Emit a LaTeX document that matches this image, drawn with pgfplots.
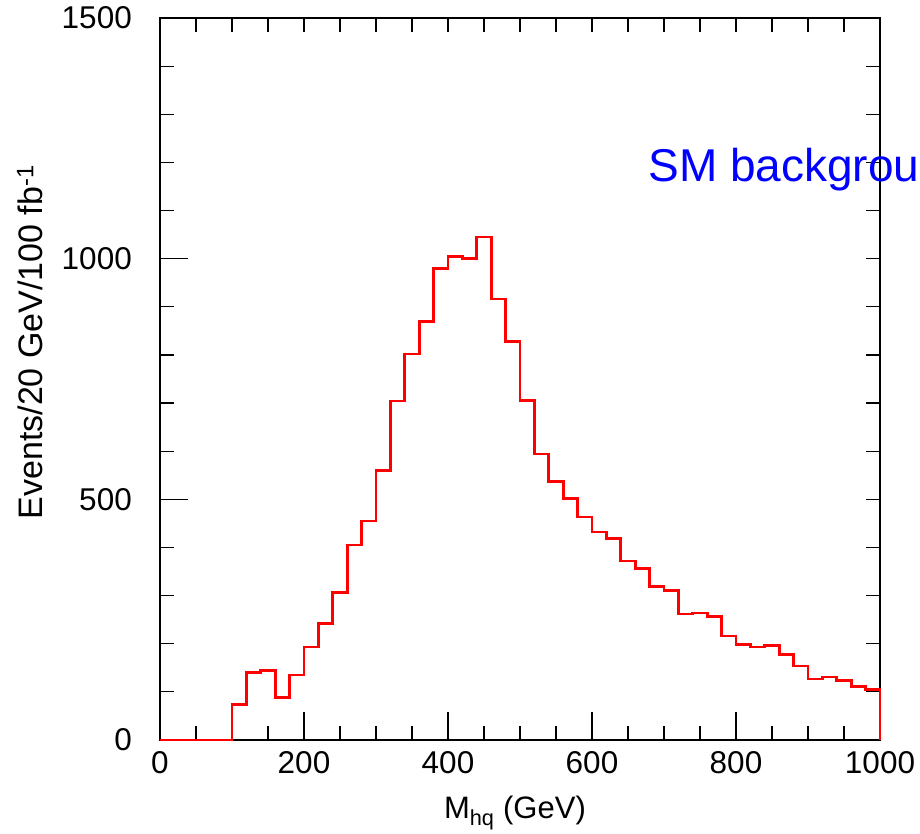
\documentclass[border=0pt]{standalone}
\usepackage{pgfplots}
\pgfplotsset{compat=1.18}
\usepackage{fontspec}
\setmainfont{Liberation Sans}
\begin{document}
\begin{tikzpicture}
\useasboundingbox (-160pt,-94pt) rectangle (760pt,740pt);
\clip (-160pt,-94pt) rectangle (760pt,740pt);
\begin{axis}[
  at={(0pt,0pt)}, anchor=south west,
  scale only axis, width=720pt, height=722pt,
  xmin=0, xmax=1000, ymin=0, ymax=1500,
  xtick={50,100,...,950}, ytick={100,200,...,1400},
  xticklabels={}, yticklabels={},
  xtick pos=right, ytick pos=right,
  tick align=inside,
  major tick length=14pt,
  every tick/.style={black, line width=1.2pt},
  axis line style={line width=1.4pt},
]
\end{axis}
\begin{axis}[
  at={(0pt,0pt)}, anchor=south west,
  scale only axis, width=720pt, height=722pt,
  xmin=0, xmax=1000, ymin=0, ymax=1500,
  xtick={0,200,...,1000}, ytick={0,500,1000,1500},
  minor x tick num=3, minor y tick num=4,
  xtick pos=left, ytick pos=left,
  tick align=inside,
  major tick length=28pt, minor tick length=14pt,
  axis line style={line width=1.4pt},
  every tick/.style={black, line width=1.2pt},
  every minor tick/.style={black, line width=1.2pt},
  /pgf/number format/assume math mode=true,
  /pgf/number format/1000 sep={},
  tick label style={font=\fontsize{31.5}{38}\selectfont},
  xticklabel style={inner sep=0pt, yshift=-11pt},
  yticklabel style={inner sep=0pt, xshift=-28pt},
  xlabel={M\textsubscript{hq} (GeV)},
  ylabel={Events/20 GeV/100 fb\textsuperscript{-1}},
  xlabel style={at={(axis description cs:0.493,0)}, anchor=base, yshift=-78pt, inner sep=0pt, font=\fontsize{31}{37}\selectfont},
  ylabel style={at={(axis description cs:-0.1806,0.551)}, anchor=center, inner sep=0pt, font=\fontsize{34}{40}\selectfont},
  clip=false,
]
\addplot[const plot, red, line width=2.7pt, line join=miter] coordinates {
(0,0) (100,74) (120,140) (140,145) (160,89) (180,135) (200,193) (220,242)
(240,307) (260,405) (280,455) (300,560) (320,704) (340,802) (360,870)
(380,980) (400,1005) (420,1001) (440,1045) (460,916) (480,828) (500,705)
(520,594) (540,537) (560,501) (580,463) (600,432) (620,418) (640,372)
(660,356) (680,319) (700,310) (720,262) (740,264) (760,256) (780,216)
(800,199) (820,193) (840,197) (860,177) (880,154) (900,127) (920,131)
(940,124) (960,111) (980,105) (1000,0)
};
\node[anchor=base west, inner sep=0pt, text=blue, font=\fontsize{46}{55}\selectfont] at (axis cs:678,1160) {SM background};
\end{axis}
\end{tikzpicture}
\end{document}
